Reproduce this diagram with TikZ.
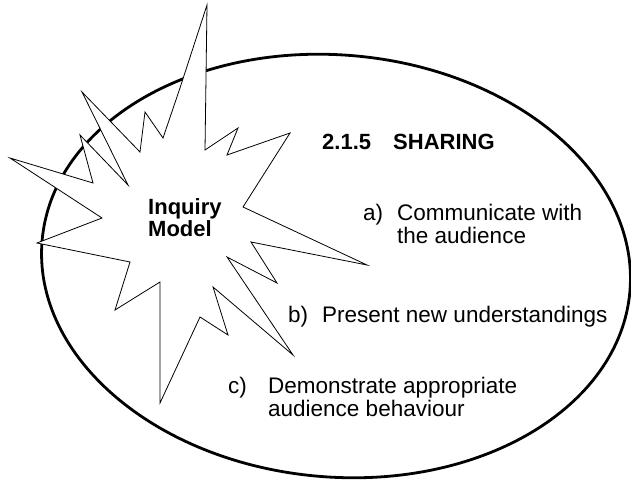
\documentclass[tikz,border=0pt]{standalone}
\usepackage{xcolor}
\usepackage{fontspec}
\setmainfont{Liberation Sans}
\usepackage{tikz}

\begin{document}
\begin{tikzpicture}[x=1pt,y=-1pt,
  heading/.style={font=\fontsize{22}{22}\selectfont\bfseries,anchor=base west,inner sep=0pt,align=left},
  itemtext/.style={font=\fontsize{22.5}{23}\selectfont,anchor=base west,inner sep=0pt,align=left}]

\useasboundingbox (0,0) rectangle (631,479);

\draw [line width=2.8pt,rotate around={-5:(336,266)}] (336,266) ellipse [x radius=295,y radius=211];

\draw [fill=white,line width=0.8pt] (207,5) -- (205,150) -- (238,128) -- (227,155) -- (290,133) -- (243,207)
  -- (367,265) -- (251,242) -- (277,283) -- (227,257) -- (293,355) -- (213,287) -- (228,335) -- (200,317)
  -- (160,403) -- (160,282) -- (115,310) -- (130,262) -- (37,243) -- (102,218) -- (10,158) -- (93,183)
  -- (80,135) -- (128,185) -- (82,92) -- (140,152) -- (145,112) -- (163,138) -- (180,88) -- cycle;

\node (inquiry_model)	at (148,236)	[heading] {Inquiry\\Model};

\node (section_number)	at (322,149)	[heading] {2.1.5};
\node (section_title)	at (393,149)	[heading] {SHARING};

\node (label_a)	at (363,220)	[itemtext] {a)};
\node (text_a)	at (397,243)	[itemtext] {Communicate with\\the audience};
\node (label_b)	at (288,322)	[itemtext] {b)};
\node (text_b)	at (322,322)	[itemtext] {Present new understandings};
\node (label_c)	at (228,393)	[itemtext] {c)};
\node (text_c)	at (268,416)	[itemtext] {Demonstrate appropriate\\audience behaviour};

\end{tikzpicture}
\end{document}
